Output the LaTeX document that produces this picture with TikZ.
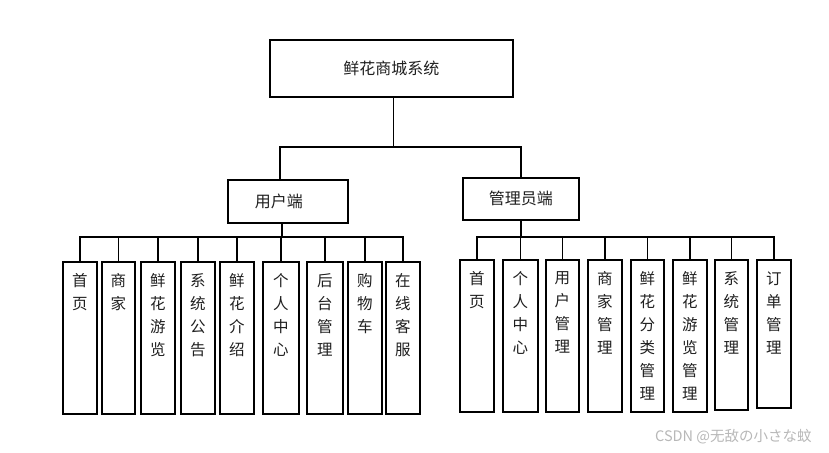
\documentclass[tikz,border=0pt]{standalone}
\usepackage{fontspec}
\setmainfont{Noto Sans CJK SC}
\usetikzlibrary{calc}
\tikzset{
  box/.style={draw=black, line width=1.8pt, inner sep=0pt, text=black!88},
  conn/.style={draw=black, line width=1.8pt},
}
\newcommand{\leafcol}[3]{\parbox[t][#2pt][t]{#1pt}{\centering\vspace*{12pt}\fontsize{15.5}{23}\selectfont #3\par}}
\begin{document}
\begin{tikzpicture}[x=1pt,y=-1pt]
\useasboundingbox (0,0) rectangle (829,452);
\fill[white] (0,0) rectangle (829,452);
% top
\node[box, anchor=north west, minimum width=243pt, minimum height=57pt, font=\fontsize{16}{19}\selectfont] (top) at (269,39) {鲜花商城系统};
\node[box, anchor=north west, minimum width=120pt, minimum height=43pt, font=\fontsize{16}{19}\selectfont] (u) at (227,179) {\hspace*{-18pt}用户端};
\node[box, anchor=north west, minimum width=116pt, minimum height=42pt, font=\fontsize{16}{19}\selectfont] (m) at (462,177) {管理员端};
\coordinate (tbar) at (0,147);
\coordinate (lbar) at (0,237);
\coordinate (rbar) at (0,237);
\coordinate (ut) at ([xshift=-8pt]u.north);
\coordinate (ub) at ([xshift=-6pt]u.south);
\draw[conn] ([xshift=2pt]top.south) -- ([xshift=2pt]top.south |- tbar) -| (ut);
\draw[conn] ([xshift=2pt]top.south) -- ([xshift=2pt]top.south |- tbar) -| (m.north);
% left leaves
\node[box, anchor=north west] (L1) at (62,261) {\leafcol{34}{152}{首\\页}};
\node[box, anchor=north west] (L2) at (101,261) {\leafcol{33}{152}{商\\家}};
\node[box, anchor=north west] (L3) at (140,261) {\leafcol{34}{152}{鲜\\花\\游\\览}};
\node[box, anchor=north west] (L4) at (180,261) {\leafcol{34}{152}{系\\统\\公\\告}};
\node[box, anchor=north west] (L5) at (219,261) {\leafcol{34}{152}{鲜\\花\\介\\绍}};
\node[box, anchor=north west] (L6) at (262,261) {\leafcol{36}{152}{个\\人\\中\\心}};
\node[box, anchor=north west] (L7) at (306,261) {\leafcol{36}{152}{后\\台\\管\\理}};
\node[box, anchor=north west] (L8) at (347,261) {\leafcol{34}{152}{购\\物\\车}};
\node[box, anchor=north west] (L9) at (385,261) {\leafcol{34}{152}{在\\线\\客\\服}};
\foreach \k in {1,...,9}{
  \draw[conn] (ub) -- (ub |- lbar) -| (L\k.north);
}
% right leaves
\node[box, anchor=north west] (R1) at (459,259) {\leafcol{34}{152}{首\\页}};
\node[box, anchor=north west] (R2) at (502,259) {\leafcol{35}{152}{个\\人\\中\\心}};
\node[box, anchor=north west] (R3) at (545,259) {\leafcol{33}{152}{用\\户\\管\\理}};
\node[box, anchor=north west] (R4) at (587,259) {\leafcol{34}{152}{商\\家\\管\\理}};
\node[box, anchor=north west] (R5) at (630,259) {\leafcol{33}{152}{鲜\\花\\分\\类\\管\\理}};
\node[box, anchor=north west] (R6) at (672,259) {\leafcol{34}{152}{鲜\\花\\游\\览\\管\\理}};
\node[box, anchor=north west] (R7) at (714,259) {\leafcol{33}{150}{系\\统\\管\\理}};
\node[box, anchor=north west] (R8) at (756,259) {\leafcol{34}{148}{订\\单\\管\\理}};
\foreach \k in {1,...,8}{
  \draw[conn] (m.south) -- (m.south |- rbar) -| (R\k.north);
}
% watermark
\node[anchor=west, text=black!28, font=\fontsize{14.5}{17}\selectfont, inner sep=0pt] (wm) at (655,437) {CSDN @无敌の小さな蚊};
\end{tikzpicture}
\end{document}
